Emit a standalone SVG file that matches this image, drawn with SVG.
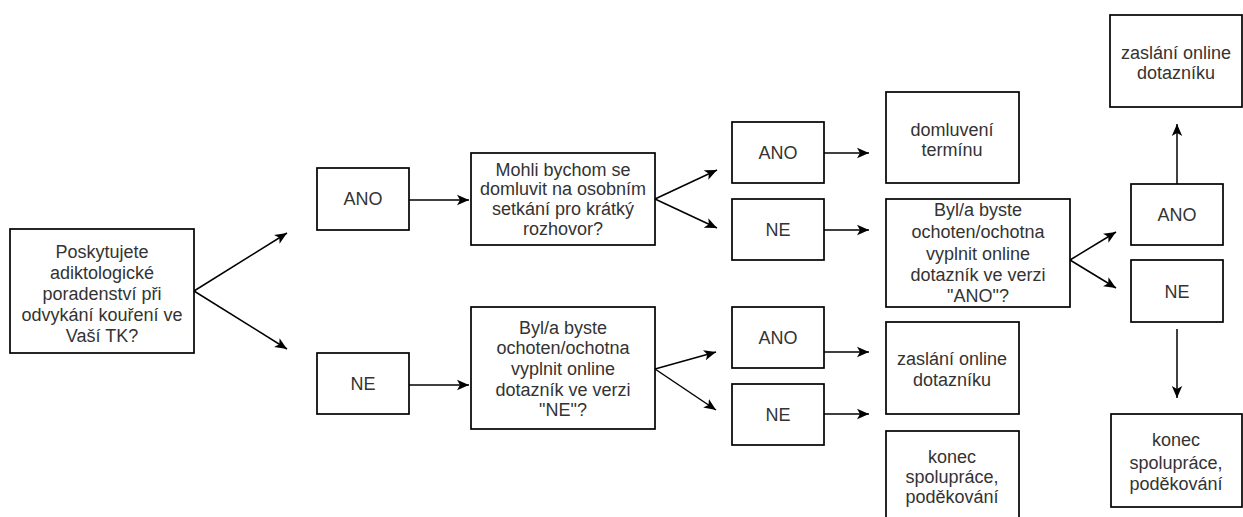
<svg xmlns="http://www.w3.org/2000/svg" width="1243" height="517" viewBox="0 0 1243 517">
<defs>
<marker id="arr" markerUnits="userSpaceOnUse" markerWidth="14" markerHeight="12" refX="12" refY="6" orient="auto">
<path d="M0,0.8 L12,6 L0,11.2 L3,6 Z" fill="#000"/>
</marker>
<style>
.box{fill:#fff;stroke:#000;stroke-width:1.7}
.t{font-family:"Liberation Sans",Arial,sans-serif;font-size:18px;fill:#333;text-anchor:middle}
.c{stroke:#000;stroke-width:1.5;fill:none;marker-end:url(#arr)}
</style>
</defs>
<rect width="1243" height="517" fill="#fff"/>
<g id="connectors">
<line class="c" x1="194" y1="291" x2="287" y2="233"/>
<line class="c" x1="194" y1="291" x2="287" y2="349"/>
<line class="c" x1="409" y1="200" x2="469" y2="200"/>
<line class="c" x1="409" y1="385" x2="469" y2="385"/>
<line class="c" x1="655" y1="199" x2="717" y2="170"/>
<line class="c" x1="655" y1="199" x2="717" y2="228"/>
<line class="c" x1="655" y1="369" x2="716" y2="352"/>
<line class="c" x1="655" y1="369" x2="716" y2="410"/>
<line class="c" x1="824" y1="153" x2="869" y2="153"/>
<line class="c" x1="824" y1="230" x2="869" y2="230"/>
<line class="c" x1="824" y1="352" x2="869" y2="352"/>
<line class="c" x1="824" y1="414" x2="869" y2="414"/>
<line class="c" x1="1070" y1="260" x2="1116" y2="232"/>
<line class="c" x1="1070" y1="260" x2="1116" y2="288"/>
<line class="c" x1="1177" y1="184" x2="1177" y2="124"/>
<line class="c" x1="1177" y1="329" x2="1177" y2="398"/>
</g>
<g id="q1">
<rect class="box" x="10" y="229" width="184" height="124"/>
<text class="t" x="102" y="258">Poskytujete</text>
<text class="t" x="102" y="279">adiktologické</text>
<text class="t" x="102" y="300">poradenství při</text>
<text class="t" x="102" y="321">odvykání kouření ve</text>
<text class="t" x="102" y="342">Vaší TK?</text>
</g>
<g id="ano1">
<rect class="box" x="317" y="168" width="92" height="62"/>
<text class="t" x="363" y="205">ANO</text>
</g>
<g id="ne1">
<rect class="box" x="317" y="353" width="92" height="61"/>
<text class="t" x="363" y="390">NE</text>
</g>
<g id="q2">
<rect class="box" x="471" y="153" width="184" height="92"/>
<text class="t" x="563" y="176">Mohli bychom se</text>
<text class="t" x="563" y="195">domluvit na osobním</text>
<text class="t" x="563" y="215">setkání pro krátký</text>
<text class="t" x="563" y="235">rozhovor?</text>
</g>
<g id="q3">
<rect class="box" x="471" y="307" width="184" height="122"/>
<text class="t" x="563" y="334">Byl/a byste</text>
<text class="t" x="563" y="354">ochoten/ochotna</text>
<text class="t" x="563" y="375">vyplnit online</text>
<text class="t" x="563" y="396">dotazník ve verzi</text>
<text class="t" x="563" y="416">"NE"?</text>
</g>
<g id="ano2">
<rect class="box" x="732" y="122" width="92" height="61"/>
<text class="t" x="778" y="159">ANO</text>
</g>
<g id="ne2">
<rect class="box" x="732" y="199" width="92" height="61"/>
<text class="t" x="778" y="236">NE</text>
</g>
<g id="ano3">
<rect class="box" x="732" y="307" width="92" height="61"/>
<text class="t" x="778" y="344">ANO</text>
</g>
<g id="ne3">
<rect class="box" x="732" y="384" width="92" height="61"/>
<text class="t" x="778" y="421">NE</text>
</g>
<g id="domluveni">
<rect class="box" x="886" y="92" width="133" height="91"/>
<text class="t" x="952" y="136">domluvení</text>
<text class="t" x="952" y="156">termínu</text>
</g>
<g id="q4">
<rect class="box" x="886" y="199" width="184" height="108"/>
<text class="t" x="978" y="216">Byl/a byste</text>
<text class="t" x="978" y="238">ochoten/ochotna</text>
<text class="t" x="978" y="260">vyplnit online</text>
<text class="t" x="978" y="281">dotazník ve verzi</text>
<text class="t" x="978" y="302">"ANO"?</text>
</g>
<g id="zaslani-mid">
<rect class="box" x="886" y="322" width="133" height="92"/>
<text class="t" x="952" y="365">zaslání online</text>
<text class="t" x="952" y="386">dotazníku</text>
</g>
<g id="konec-mid">
<rect class="box" x="886" y="431" width="133" height="100"/>
<text class="t" x="952" y="463">konec</text>
<text class="t" x="952" y="483">spolupráce,</text>
<text class="t" x="952" y="503">poděkování</text>
</g>
<g id="ano4">
<rect class="box" x="1131" y="184" width="92" height="61"/>
<text class="t" x="1177" y="221">ANO</text>
</g>
<g id="ne4">
<rect class="box" x="1131" y="260" width="92" height="62"/>
<text class="t" x="1177" y="298">NE</text>
</g>
<g id="zaslani-top">
<rect class="box" x="1110" y="15" width="132" height="92"/>
<text class="t" x="1176" y="59">zaslání online</text>
<text class="t" x="1176" y="79">dotazníku</text>
</g>
<g id="konec-right">
<rect class="box" x="1111" y="414" width="131" height="93"/>
<text class="t" x="1176" y="446">konec</text>
<text class="t" x="1176" y="469">spolupráce,</text>
<text class="t" x="1176" y="490">poděkování</text>
</g>
</svg>
